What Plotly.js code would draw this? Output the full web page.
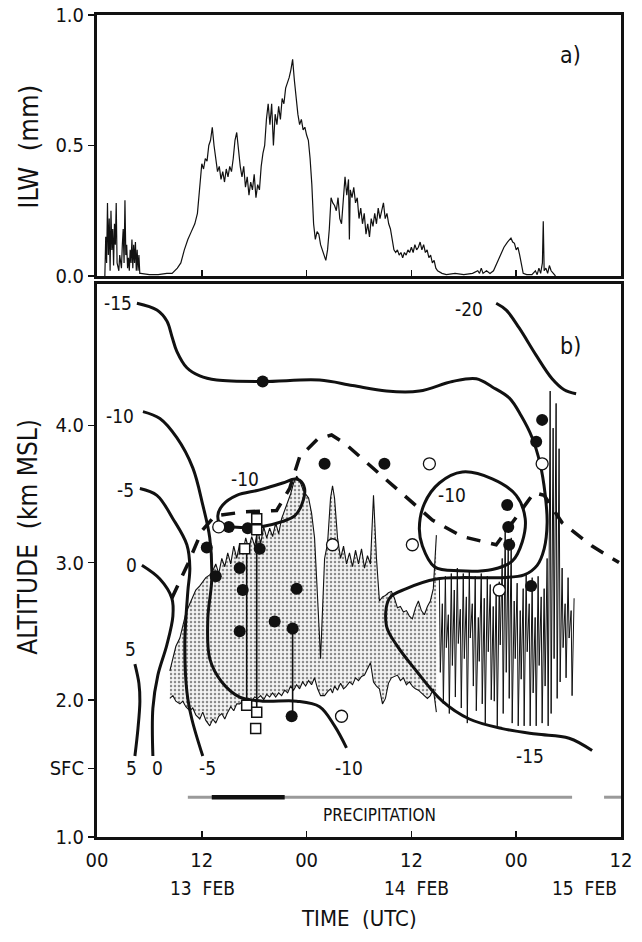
<!DOCTYPE html>
<html><head><meta charset="utf-8">
<script src="https://cdn.plot.ly/plotly-3.0.1.min.js"></script>
<style>html,body{margin:0;padding:0;background:#fff}</style>
</head><body><div id="chart" style="width:642px;height:942px"></div>
<script>
const FONT = "'Liberation Sans Narrow','DejaVu Sans Condensed','Liberation Sans',sans-serif";

// ---------- panel a: integrated liquid water (mm) ----------
const ilwTime = [0.9,1.0,1.1,1.2,1.3,1.4,1.5,1.6,1.7,1.8,1.9,2.0,2.1,2.2,2.3,2.5,2.6,2.8,2.9,3.0,3.1,3.2,3.3,3.4,3.5,3.6,3.7,3.8,3.9,4.0,4.1,4.2,4.3,4.4,4.5,4.6,4.7,4.8,4.9,
 5.0,6.0,7.0,8.0,8.6,9.2,9.6,10.0,10.4,10.8,11.2,11.5,11.8,
 12.0,12.2,12.4,12.6,12.8,13.0,13.2,13.4,13.6,13.8,14.0,14.2,14.4,14.6,14.8,15.0,15.2,15.4,15.6,15.8,16.0,16.2,16.4,16.6,16.8,17.0,17.2,17.4,17.6,17.8,18.0,18.2,18.4,18.6,18.8,19.0,19.2,19.4,19.6,19.8,20.0,20.2,20.4,20.6,20.8,21.0,21.2,21.4,21.6,21.8,22.0,22.2,22.4,22.6,22.8,23.0,23.2,23.4,23.6,23.8,24.0,24.2,24.4,24.6,24.8,
 25.0,25.2,25.4,25.6,25.8,26.0,26.2,26.4,26.6,26.8,27.0,27.2,27.4,27.6,27.8,28.0,28.2,28.4,28.6,28.8,28.9,29.0,29.2,29.4,29.6,29.8,30.0,30.2,30.4,30.6,30.8,31.0,31.2,31.4,31.6,31.8,32.0,32.2,32.4,32.6,32.8,33.0,33.2,33.4,33.6,33.8,34.0,34.2,34.4,34.6,34.8,35.0,35.2,35.4,35.6,35.8,36.0,36.2,36.4,36.6,36.8,37.0,37.2,37.4,37.6,37.8,38.0,38.2,38.4,38.6,38.8,39.0,39.5,40,41,42,43,43.6,43.8,44.0,44.2,44.6,45.0,45.4,45.8,46.2,46.6,47.0,47.4,47.6,47.8,48.0,48.2,48.4,48.6,48.8,49.2,49.8,50.2,50.4,50.6,50.8,51.0,51.1,51.2,51.4,51.6,51.8,52.0,52.2,52.5];
const ilwValue = [0.0,0.15,0.05,0.28,0.08,0.22,0.02,0.25,0.1,0.18,0.04,0.2,0.12,0.28,0.05,0.02,0.08,0.03,0.12,0.18,0.05,0.29,0.08,0.12,0.03,0.07,0.02,0.1,0.05,0.14,0.03,0.12,0.05,0.13,0.02,0.1,0.02,0.08,0.01,
 0.01,0.005,0.005,0.01,0.01,0.03,0.05,0.1,0.14,0.17,0.2,0.24,0.35,
 0.43,0.41,0.45,0.44,0.5,0.52,0.57,0.5,0.45,0.4,0.42,0.37,0.4,0.36,0.41,0.38,0.42,0.4,0.45,0.52,0.55,0.48,0.42,0.38,0.42,0.34,0.38,0.31,0.36,0.33,0.39,0.3,0.35,0.33,0.42,0.47,0.5,0.6,0.66,0.58,0.66,0.5,0.62,0.58,0.65,0.6,0.68,0.66,0.72,0.74,0.76,0.79,0.83,0.75,0.68,0.62,0.58,0.6,0.56,0.57,0.54,0.52,0.45,0.35,0.2,
 0.14,0.17,0.16,0.12,0.1,0.08,0.06,0.1,0.18,0.3,0.28,0.27,0.25,0.3,0.22,0.2,0.3,0.38,0.31,0.37,0.14,0.33,0.3,0.34,0.28,0.3,0.22,0.26,0.2,0.24,0.16,0.2,0.15,0.22,0.19,0.24,0.2,0.26,0.22,0.25,0.28,0.22,0.24,0.2,0.18,0.14,0.1,0.09,0.1,0.08,0.09,0.07,0.09,0.08,0.1,0.09,0.11,0.09,0.12,0.1,0.11,0.13,0.1,0.12,0.09,0.1,0.07,0.08,0.05,0.06,0.03,0.02,0.01,0.005,0.01,0.005,0.01,0.02,0.01,0.03,0.01,0.02,0.01,0.02,0.05,0.08,0.11,0.13,0.145,0.13,0.125,0.1,0.11,0.08,0.04,0.01,0.005,0.005,0.02,0.005,0.03,0.01,0.05,0.21,0.02,0.03,0.01,0.04,0.02,0.01,0.0];

// ---------- panel b: isotherms (deg C) ----------
const isoM15Time = [4.57,6.86,8.0,8.57,9.14,10.29,11.77,13.71,18.97,25.49,29.26,33.14,36.91,40.69,43.43,45.26,47.2,48.57,49.83,50.74,51.31,51.54,51.2,50.4,48.91,46.06,41.49,38.86,35.43,33.49,33.14,34.29,36.57,39.54,42.63,46.4,50.29,54.06,56.69];
const isoM15Alt  = [4.89,4.84,4.76,4.65,4.54,4.42,4.36,4.33,4.32,4.33,4.29,4.25,4.25,4.32,4.34,4.28,4.20,4.07,3.91,3.72,3.50,3.29,3.10,2.98,2.91,2.89,2.89,2.88,2.81,2.74,2.54,2.40,2.21,1.99,1.86,1.79,1.75,1.72,1.63];
const isoM20Time = [45.71,46.86,48.34,50.29,52.11,53.49,54.86];
const isoM20Alt  = [4.89,4.84,4.71,4.51,4.34,4.26,4.23];
const isoM10Time = [5.26,7.2,9.14,10.97,12.11,12.91,13.14,12.69,12.91,14.29,16.34,18.97,22.86,25.49,27.2,28.57];
const isoM10Alt  = [4.10,4.05,3.91,3.69,3.42,3.18,2.88,2.59,2.30,2.13,2.02,1.99,1.99,1.95,1.81,1.65];
const isoM5Time  = [4.91,6.86,8.69,10.29,10.63,10.4,10.06,10.29,10.86,12.11];
const isoM5Alt   = [3.54,3.49,3.32,3.13,2.96,2.79,2.42,2.06,1.86,1.59];
const iso0Time   = [5.14,7.2,8.57,8.69,8.0,6.97,6.4,6.4];
const iso0Alt    = [2.98,2.88,2.74,2.61,2.40,2.18,1.94,1.59];
const iso5Time   = [4.34,4.8,4.91,4.69,4.34];
const iso5Alt    = [2.26,2.12,1.99,1.79,1.59];
const loopATime  = [22.63,21.26,18.63,16.0,14.4,13.83,14.29,15.54,18.63,21.26,22.63,23.43,23.77,23.2,22.63];
const loopAAlt   = [3.61,3.58,3.53,3.49,3.42,3.34,3.27,3.26,3.26,3.30,3.34,3.42,3.54,3.60,3.61];
const loopBTime  = [41.83,45.26,48.0,49.03,48.69,47.54,45.26,41.49,38.63,37.26,36.91,37.49,39.2,41.83];
const loopBAlt   = [3.66,3.61,3.49,3.32,3.15,3.01,2.95,2.94,2.97,3.12,3.25,3.43,3.58,3.66];

// dashed line
const dashTime = [8.57,10.4,12.0,13.49,16.91,20.57,22.06,23.2,25.26,26.86,28.34,32.69,35.54,38.4,41.83,45.71,50.06,51.2,53.26,56.69,59.77];
const dashAlt  = [2.74,2.99,3.23,3.34,3.37,3.38,3.54,3.77,3.90,3.93,3.87,3.63,3.47,3.31,3.19,3.13,3.51,3.49,3.29,3.12,3.00];

// cloud (shaded) top and base
const cloudTime = [8.34,8.69,9.03,9.49,9.83,10.17,10.63,10.97,11.31,11.77,12.11,12.46,12.91,13.26,13.6,13.94,14.29,14.63,14.97,15.31,15.66,16.0,16.34,16.69,17.03,17.37,17.71,18.06,18.4,18.74,19.09,19.43,19.77,20.11,20.46,20.8,21.14,21.49,21.83,22.17,22.51,22.86,23.2,23.54,23.89,24.23,24.57,24.91,25.26,25.6,26.06,26.4,26.74,26.97,27.2,27.54,27.89,28.23,28.57,28.91,29.26,29.6,29.94,30.29,30.63,30.97,31.31,31.66,32.0,32.34,32.69,33.03,33.37,33.71,34.06,34.4,34.74,35.09,35.43,35.77,36.11,36.46,36.8,37.14,37.49,37.83,38.17,38.51,38.86];
const cloudTop = [2.21,2.30,2.39,2.45,2.53,2.63,2.70,2.75,2.80,2.83,2.86,2.89,2.91,2.94,2.99,2.92,3.03,2.97,3.07,2.99,3.12,3.03,3.14,3.07,3.18,3.10,3.19,3.12,3.24,3.14,3.26,3.18,3.25,3.19,3.29,3.21,3.32,3.38,3.43,3.50,3.58,3.63,3.60,3.54,3.50,3.47,3.36,3.18,2.74,2.30,3.03,3.14,3.47,3.56,3.47,3.18,3.03,3.12,2.99,3.07,2.97,3.09,2.99,3.10,2.96,3.05,2.99,3.49,3.03,2.72,2.75,2.76,2.78,2.79,2.74,2.67,2.68,2.64,2.65,2.61,2.59,2.67,2.72,2.65,2.62,2.68,2.72,2.81,3.20];
const cloudBase = [2.01,2.03,1.99,1.97,1.99,1.95,1.92,1.94,1.89,1.86,1.91,1.85,1.81,1.86,1.83,1.88,1.90,1.86,1.91,1.95,1.92,1.97,1.97,1.99,1.98,2.01,1.99,2.02,2.01,2.03,2.00,2.04,2.02,2.05,2.02,2.05,2.03,2.07,2.05,2.10,2.07,2.11,2.08,2.13,2.10,2.14,2.11,2.16,2.08,2.03,2.03,2.06,2.08,2.05,2.10,2.07,2.12,2.08,2.10,2.13,2.11,2.16,2.14,2.17,2.18,2.23,2.27,2.13,2.10,2.08,1.97,2.01,2.12,2.16,2.17,2.18,2.14,2.16,2.11,2.13,2.10,2.08,2.07,2.05,2.03,2.01,2.03,2.08,1.91];

// spiky cloud boundary trace (14-15 Feb)
const spikeTime = [39.2,39.31,39.54,39.66,39.89,40.0,40.23,40.34,40.57,40.69,40.91,41.03,41.26,41.37,41.6,41.71,41.94,42.06,42.29,42.4,42.63,42.74,42.97,43.09,43.31,43.43,43.66,43.77,44.0,44.11,44.34,44.46,44.69,44.8,45.03,45.14,45.37,45.49,45.71,45.83,46.06,46.17,46.4,46.51,46.74,46.86,47.09,47.2,47.43,47.54,47.77,47.89,48.11,48.23,48.46,48.57,48.8,48.91,49.14,49.26,49.49,49.6,49.83,49.94,50.17,50.29,50.51,50.63,50.86,50.97,51.2,51.31,51.54,51.66,51.89,52.0,52.23,52.34,52.57,52.69,52.91,53.03,53.26,53.37,53.6,53.71,53.94,54.06,54.29,54.4,54.63];
const spikeAlt = [2.89,2.20,2.70,1.97,2.90,2.38,2.62,1.90,2.92,2.25,2.80,2.02,2.96,2.41,2.66,1.94,2.92,2.30,2.75,1.83,2.94,2.45,2.70,2.10,2.90,1.92,2.60,2.28,2.92,1.97,2.74,1.83,2.90,2.35,2.84,2.00,2.68,1.99,2.83,1.81,2.86,2.40,3.03,1.90,3.25,2.20,3.14,2.01,3.18,1.83,2.72,2.30,2.85,1.81,2.65,2.15,2.81,1.81,2.92,2.35,2.70,1.81,2.89,2.05,2.60,1.81,2.90,2.25,2.75,1.83,2.81,2.10,3.03,1.81,4.25,1.90,3.98,2.30,4.16,2.01,3.83,2.13,2.96,2.38,2.70,2.16,2.89,2.45,2.65,2.03,2.74];

// observations
const filledTime = [18.97,12.57,15.09,17.26,18.63,16.34,13.6,16.69,22.86,16.34,20.34,22.4,22.29,26.06,32.91,50.97,50.29,46.97,47.09,47.2,49.71];
const filledAlt  = [4.32,3.11,3.26,3.25,3.10,2.96,2.90,2.80,2.81,2.50,2.57,2.52,1.88,3.72,3.72,4.04,3.88,3.42,3.26,3.13,2.83];
const openTime = [13.94,38.06,26.97,36.11,50.97,46.06,28.0];
const openAlt  = [3.26,3.72,3.13,3.13,3.72,2.80,1.88];
const squareTime = [18.29,18.29,16.91,17.14,18.29,18.17];
const squareAlt  = [3.32,3.24,3.10,1.96,1.91,1.79];
const stemTime = [17.14,18.29,22.4];
const stemBottom = [1.96,1.91,1.88];
const stemTop = [3.10,3.24,2.52];

// precipitation bar
const precipTime = [10.4,54.4];
const precipTime2 = [58.06,60.0];
const heavyPrecipTime = [13.14,21.49];
const precipAlt = 1.29;

// labels
const contourLabel = ['-15','-10','-5','0','5','5','0','-5','-10','-15','-10','-10','-20'];
const contourLabelTime = [2.4,2.6,3.3,4.0,3.8,4.0,6.9,12.7,28.9,49.6,17.0,40.7,42.6];
const contourLabelAlt = [4.89,4.07,3.53,2.98,2.37,1.50,1.50,1.50,1.50,1.59,3.61,3.49,4.85];
const hourTicks = [0,12,24,36,48,60];
const hourTickText = ['00','12','00','12','00','12'];
const dateLabel = ['13  FEB','14  FEB','15  FEB'];
const dateLabelTime = [12.1,36.6,55.8];
const altTicks = [1,1.5,2,3,4];
const altTickText = ['1.0','SFC','2.0','3.0','4.0'];
const ilwTicks = [0,0.5,1];
const ilwTickText = ['0.0','0.5','1.0'];

const INK = '#111';
function iso(t, a, shape) {
  return {x: t, y: a, xaxis: 'x', yaxis: 'y', type: 'scatter', mode: 'lines',
    line: {color: INK, width: 3, shape: shape || 'spline', smoothing: 1}, hoverinfo: 'skip'};
}
const polyX = cloudTime.concat(cloudTime.slice().reverse());
const polyY = cloudTop.concat(cloudBase.slice().reverse());
const stemX = [], stemY = [];
stemTime.forEach((t, i) => { stemX.push(t, t, null); stemY.push(stemBottom[i], stemTop[i], null); });

const traces = [
  {x: ilwTime, y: ilwValue, xaxis: 'x2', yaxis: 'y2', type: 'scatter', mode: 'lines', line: {color: INK, width: 1.2}},
  {x: polyX, y: polyY, xaxis: 'x', yaxis: 'y', type: 'scatter', mode: 'lines', fill: 'toself',
    fillcolor: 'rgba(0,0,0,0)', fillpattern: {shape: '.', fgcolor: '#8a8a8a', bgcolor: '#f4f4f4', size: 4, solidity: 0.3},
    line: {width: 0}},
  {x: cloudTime, y: cloudTop, xaxis: 'x', yaxis: 'y', type: 'scatter', mode: 'lines', line: {color: INK, width: 1.1}},
  {x: cloudTime, y: cloudBase, xaxis: 'x', yaxis: 'y', type: 'scatter', mode: 'lines', line: {color: INK, width: 1.1}},
  {x: spikeTime, y: spikeAlt, xaxis: 'x', yaxis: 'y', type: 'scatter', mode: 'lines', line: {color: INK, width: 1}},
  iso(isoM15Time, isoM15Alt), iso(isoM20Time, isoM20Alt), iso(isoM10Time, isoM10Alt),
  iso(isoM5Time, isoM5Alt), iso(iso0Time, iso0Alt), iso(iso5Time, iso5Alt),
  iso(loopATime, loopAAlt), iso(loopBTime, loopBAlt),
  {x: dashTime, y: dashAlt, xaxis: 'x', yaxis: 'y', type: 'scatter', mode: 'lines',
    line: {color: INK, width: 3.5, dash: '14px,11px'}},
  {x: stemX, y: stemY, xaxis: 'x', yaxis: 'y', type: 'scatter', mode: 'lines', line: {color: INK, width: 1.6}},
  {x: filledTime, y: filledAlt, xaxis: 'x', yaxis: 'y', type: 'scatter', mode: 'markers',
    marker: {symbol: 'circle', size: 12, color: INK, line: {width: 0}}},
  {x: openTime, y: openAlt, xaxis: 'x', yaxis: 'y', type: 'scatter', mode: 'markers',
    marker: {symbol: 'circle', size: 12, color: 'white', line: {width: 1.3, color: INK}}},
  {x: squareTime, y: squareAlt, xaxis: 'x', yaxis: 'y', type: 'scatter', mode: 'markers',
    marker: {symbol: 'square', size: 10, color: 'white', line: {width: 1.5, color: INK}}},
  {x: precipTime, y: [precipAlt, precipAlt], xaxis: 'x', yaxis: 'y', type: 'scatter', mode: 'lines', line: {color: '#9a9a9a', width: 3}},
  {x: precipTime2, y: [precipAlt, precipAlt], xaxis: 'x', yaxis: 'y', type: 'scatter', mode: 'lines', line: {color: '#9a9a9a', width: 3}},
  {x: heavyPrecipTime, y: [precipAlt, precipAlt], xaxis: 'x', yaxis: 'y', type: 'scatter', mode: 'lines', line: {color: INK, width: 4.5}}
];

const annotations = [];
contourLabel.forEach((t, i) => annotations.push({x: contourLabelTime[i], y: contourLabelAlt[i], xref: 'x', yref: 'y',
  text: t, showarrow: false, font: {size: 19, color: INK, family: FONT}}));
dateLabel.forEach((t, i) => annotations.push({x: dateLabelTime[i], y: (837 - 888) / 822, xref: 'x', yref: 'paper',
  yanchor: 'middle', text: t, showarrow: false, font: {size: 19, color: INK, family: FONT}}));
annotations.push({x: 32.3, y: 1.16, xref: 'x', yref: 'y', text: 'PRECIPITATION', showarrow: false, font: {size: 17, color: INK, family: FONT}});
annotations.push({x: 54.2, y: 0.847, xref: 'x2', yref: 'y2', text: 'a)', showarrow: false, font: {size: 23, color: INK, family: FONT}});
annotations.push({x: 54.2, y: 4.58, xref: 'x', yref: 'y', text: 'b)', showarrow: false, font: {size: 23, color: INK, family: FONT}});
annotations.push({x: 0.5, y: (837 - 918) / 822, xref: 'paper', yref: 'paper', yanchor: 'middle', text: 'TIME  (UTC)', showarrow: false, font: {size: 22, color: INK, family: FONT}});
annotations.push({x: -0.132, y: (837 - 147) / 822, xref: 'paper', yref: 'paper', xanchor: 'center', yanchor: 'middle', text: 'ILW  (mm)', textangle: -90, showarrow: false, font: {size: 27, color: INK, family: FONT}});
annotations.push({x: -0.132, y: (837 - 537) / 822, xref: 'paper', yref: 'paper', xanchor: 'center', yanchor: 'middle', text: 'ALTITUDE  (km MSL)', textangle: -90, showarrow: false, font: {size: 26, color: INK, family: FONT}});

const axisCommon = {showline: true, mirror: true, linewidth: 3, linecolor: INK, showgrid: false, zeroline: false,
  tickcolor: INK, tickwidth: 1.5, ticklen: 6};
const layout = {
  width: 642, height: 942,
  margin: {l: 97, r: 21, t: 15, b: 105},
  paper_bgcolor: 'white', plot_bgcolor: 'white', showlegend: false,
  font: {family: FONT, color: INK, size: 17},
  xaxis: Object.assign({}, axisCommon, {domain: [0, 1], range: [0, 60], anchor: 'y', tickmode: 'array',
    tickvals: hourTicks, ticktext: hourTickText, ticks: 'inside', ticklabelstandoff: 3, tickfont: {size: 20}}),
  yaxis: Object.assign({}, axisCommon, {domain: [0, 0.6727], range: [1, 5.03], anchor: 'x', tickmode: 'array',
    tickvals: altTicks, ticktext: altTickText, ticks: 'outside', tickfont: {size: 20}}),
  xaxis2: Object.assign({}, axisCommon, {domain: [0, 1], range: [0, 60], anchor: 'y2', tickmode: 'array',
    tickvals: hourTicks, showticklabels: false, ticks: 'inside'}),
  yaxis2: Object.assign({}, axisCommon, {domain: [0.6825, 1], range: [0, 1], anchor: 'x2', tickmode: 'array',
    tickvals: ilwTicks, ticktext: ilwTickText, ticks: 'outside', tickfont: {size: 20}}),
  annotations: annotations
};
Plotly.newPlot('chart', traces, layout, {displayModeBar: false, staticPlot: true});
</script></body></html>
